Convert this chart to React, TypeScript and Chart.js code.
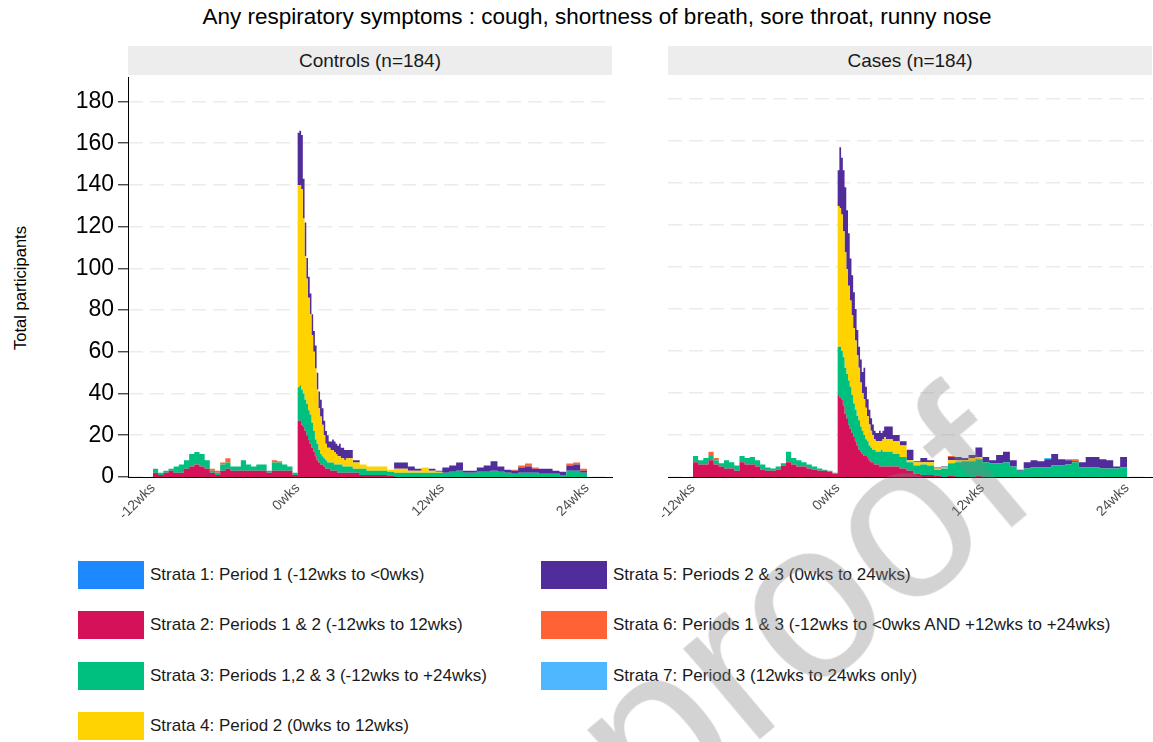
import React, { useEffect, useRef } from "react";
import { Chart, registerables } from "chart.js";
Chart.register(...registerables);

const FONT = "'Liberation Sans', Arial, Helvetica, sans-serif";

// Bin start day (relative to 0wks). Pre-period 3-day bins, peak daily, tail 4-day bins, final closing point.
const DAYS = [
  -84, -81, -78, -75, -72, -69, -66, -63, -60, -57, -54, -51, -48, -45, -42, -39, -36, -33, -30, -27, -24, -21, -18, -15, -12, -9, -6, -3,
  0, 1, 2, 3, 4, 5, 6, 7, 8, 9, 10, 11, 12, 13, 14, 15, 16, 17, 18, 19, 20, 21, 22, 23, 24, 25, 26, 27,
  28, 32, 36, 40, 44, 48, 52, 56, 60, 64, 68, 72, 76, 80, 84, 88, 92, 96, 100, 104, 108, 112, 116, 120, 124, 128, 132, 136, 140, 144, 148, 152, 156, 160, 164,
  168,
];

const X_TICKS = [-84, 0, 84, 168];
const X_TICK_LABELS = ["-12wks", "0wks", "12wks", "24wks"];
const Y_TICKS = [0, 20, 40, 60, 80, 100, 120, 140, 160, 180];

// ---------- Controls (n=184) ----------
const CONTROLS_S2 = [
  2, 1, 2, 3, 2, 2, 4, 5, 6, 5, 4, 2, 1, 3, 4, 3, 3, 3, 3, 3, 3, 3, 2, 3, 3, 3, 3, 1,
  27, 27, 25, 24, 22, 20, 18, 16, 14, 12, 10, 8, 7, 6, 6, 5, 4, 4, 4, 3, 3, 3, 3, 2, 2, 2, 2, 2,
  2, 2, 1, 1, 1, 1, 0.5, 0, 0, 0, 0, 0, 0, 0, 0, 0, 0, 0, 0, 0, 0, 0, 0, 0, 0, 0, 0, 0, 0, 0, 0, 0, 0, 0, 0,
  0,
];
const CONTROLS_S3 = [
  2, 1, 1, 1, 3, 4, 4, 6, 6, 6, 4, 1, 1, 3, 3, 2, 2, 5, 3, 2, 3, 3, 1, 4, 4, 3, 2, 1,
  16, 17, 17, 16, 15, 15, 14, 14, 12, 10, 8, 8, 6, 5, 4, 4, 4, 3, 3, 4, 4, 3, 3, 4, 4, 4, 3, 3,
  3, 2, 3, 2, 2, 2, 2, 2, 2, 2, 2, 2, 2, 2, 2, 2.5, 3, 2, 2, 2.5, 2.5, 3, 2.5, 2, 1.5, 2, 2, 2, 1.5, 1.5, 1.5, 1, 3, 3, 2,
  0,
];
const CONTROLS_S4 = [
  0, 0, 0, 0, 0, 0, 0, 0, 0, 0, 0, 0, 0, 0, 0, 0, 0, 0, 0, 0, 0, 0, 0, 0, 0, 0, 0, 0,
  97, 96, 96, 84, 69, 60, 54, 48, 42, 38, 34, 26, 20, 18, 15, 11, 8, 7, 7, 6, 6, 6, 5, 4, 4, 3, 4, 3,
  4, 3, 2, 2, 2, 2, 1, 2, 2, 1, 1, 2.5, 1, 0.5, 0, 0, 0, 0, 0, 0, 0, 0, 0, 0, 0, 0, 0, 0, 0, 0, 0, 0, 0, 0, 0,
  0,
];
const CONTROLS_S5 = [
  0, 0, 0, 0, 0, 0, 0, 0, 0, 0, 0, 0, 0, 0, 0, 0, 0, 0, 0, 0, 0, 0, 0, 0, 0, 0, 0, 0,
  25, 26, 26, 19, 16, 10, 10, 10, 10, 10, 11, 8, 8, 8, 8, 7, 6, 6, 3, 4, 5, 5, 5, 5, 6, 5, 5, 5,
  4, 1, 0, 0, 0, 0, 0, 3, 3, 2, 1, 0, 1, 0.5, 2.5, 3, 4, 1, 1, 2, 3, 4.5, 2.5, 1.5, 1.5, 2.5, 3, 2, 2.5, 2.5, 1.5, 1.5, 2.5, 3, 1,
  0,
];
const CONTROLS_S6 = [
  0, 0, 0, 0, 0, 0, 0, 0, 0, 0, 0, 1, 1, 1, 2, 0, 0, 0, 0, 0, 0, 0, 0, 1, 0.5, 0, 0, 0,
  0, 0, 0, 0, 0, 0, 0, 0, 0, 0, 0, 0, 0, 0, 0, 0, 0, 0, 0, 0, 0, 0, 0, 0, 0, 0, 0, 0,
  0, 0, 0, 0, 0, 0, 0, 0, 0, 0, 0, 0, 0, 0, 0, 0, 0, 0, 0, 0, 0, 0, 0, 0, 0.5, 1, 1.5, 0.5, 0, 0, 0, 0, 1, 1, 1,
  0,
];

// ---------- Cases (n=184) ----------
const CASES_S2 = [
  7, 6, 6, 8, 6, 5, 4, 4, 3, 7, 6, 6, 5, 3.5, 3, 3, 3.5, 5.5, 7, 6, 5, 5, 4, 3.5, 3, 3, 2.5, 1.5,
  39, 38, 37, 34, 30, 28, 25, 23, 21, 19, 17, 15, 13, 12, 11, 10, 10, 9, 8, 7, 7, 6, 6, 6, 5, 5, 5, 5,
  5, 5, 4, 3, 1.5, 1, 1, 0.5, 0, 0.5, 0, 0, 0, 0.5, 0, 0, 0, 0, 0, 0, 0, 0, 0, 0, 0, 0, 0, 0, 0, 0, 0, 0, 0, 0, 0,
  0,
];
const CASES_S3 = [
  3, 2, 3, 2, 2, 1.5, 4, 3, 2.5, 3, 3, 3.5, 3, 2.5, 1.5, 1, 1.5, 1, 5, 3, 3, 2, 2, 1.5, 1, 0.5, 0.5, 0.5,
  23, 24, 23, 23, 22, 21, 21, 20, 18, 16, 15, 14, 14, 12, 11, 10, 8, 8, 7, 7, 6, 7, 6, 6, 7, 8, 7, 7,
  7, 6, 5.5, 4, 4, 5, 4.5, 3, 4, 6, 7, 7.5, 7.5, 8, 7, 6.5, 6.5, 7, 5, 3, 4, 4.5, 4.5, 4.5, 5.5, 5.5, 6, 7, 4.5, 4.5, 4.5, 4, 4, 4, 4.5,
  0,
];
const CASES_S4 = [
  0, 0, 0, 0, 0, 0, 0, 0, 0, 0, 0, 0, 0, 0, 0, 0, 0, 0, 0, 0, 0, 0, 0, 0, 0, 0, 0, 0,
  67, 66, 65, 60, 55, 50, 45, 41, 38, 36, 33, 29, 25, 21, 18, 17, 15, 12, 10, 8, 7, 5, 5, 5, 5, 4, 6, 7,
  6, 6, 5.5, 1, 1.5, 1, 1.5, 0.5, 0.5, 1.5, 1, 0.5, 1.5, 1, 0, 0, 0, 0, 0, 0, 0, 0, 0, 0, 0, 0, 0, 0, 0, 0, 0, 0, 0, 0, 0,
  0,
];
const CASES_S5 = [
  0, 0, 0, 0, 0, 0, 0, 0, 0, 0, 0, 0, 0, 0, 0, 0, 0, 0, 0, 0, 0, 0, 0, 0, 0, 0, 0, 0,
  17, 29, 27, 29, 31, 28, 25, 20, 19, 17, 15, 12, 10, 11, 10, 15, 10, 8, 7, 6, 5, 4, 4, 4, 5, 4, 4, 5,
  6, 3, 2, 5, 0.5, 2, 1, 0.5, 0.5, 1.5, 1.5, 1, 1.5, 4.5, 2.5, 1.5, 4, 5, 3, 0.5, 3, 3.5, 3, 4, 5.5, 3, 2, 0.5, 2.5, 5, 5, 4.5, 4, 1, 5,
  0,
];
const CASES_S6 = [
  0, 0, 0, 2, 1, 0, 0, 0, 0, 0, 0, 0, 0, 0, 0, 0, 0, 0, 0, 0, 0, 0, 0, 0, 0, 0, 0, 0,
  0, 0, 0, 0, 0, 0, 0, 0, 0, 0, 0, 0, 0, 0, 0, 0, 0, 0, 0, 0, 0, 0, 0, 0, 0, 0, 0, 0,
  0, 0, 0, 0, 0, 0, 0, 0, 0, 0.5, 0, 0, 0, 0, 0, 0, 0, 0, 0, 0, 0, 0, 0, 0, 0, 0, 0.5, 1, 0, 0, 0, 0, 0, 0, 0,
  0,
];
const CASES_S7 = [
  0, 0, 0, 0, 0, 0, 0, 0, 0, 0, 0, 0, 0, 0, 0, 0, 0, 0, 0, 0, 0, 0, 0, 0, 0, 0, 0, 0,
  0, 0, 0, 0, 0, 0, 0, 0, 0, 0, 0, 0, 0, 0, 0, 0, 0, 0, 0, 0, 0, 0, 0, 0, 0, 0, 0, 0,
  0, 0, 0, 0, 0, 0, 0, 0, 0, 0, 0, 0, 0, 0, 0, 0, 0, 0, 0, 0, 0, 0, 0, 0.5, 0, 0, 0, 0, 0, 0, 0, 0, 0, 0, 0,
  0,
];

const STRATA_LABELS = [
  "Strata 1: Period 1 (-12wks to <0wks)",
  "Strata 2: Periods 1 & 2 (-12wks to 12wks)",
  "Strata 3: Periods 1,2 & 3 (-12wks to +24wks)",
  "Strata 4: Period 2 (0wks to 12wks)",
  "Strata 5: Periods 2 & 3 (0wks to 24wks)",
  "Strata 6: Periods 1 & 3 (-12wks to <0wks AND +12wks to +24wks)",
  "Strata 7: Period 3 (12wks to 24wks only)",
];
const STRATA_COLORS = ["#1E88FF", "#D41159", "#00C07F", "#FFD300", "#512D9B", "#FF6333", "#4DB8FF"];

const TITLE = "Any respiratory symptoms : cough, shortness of breath, sore throat, runny nose";
const PANEL_TITLES = ["Controls (n=184)", "Cases (n=184)"];
const WATERMARK = "Journal Pre-proof";

type Series = { strata: number; values: number[] };

const CONTROLS_SERIES: Series[] = [
  { strata: 2, values: CONTROLS_S2 },
  { strata: 3, values: CONTROLS_S3 },
  { strata: 4, values: CONTROLS_S4 },
  { strata: 5, values: CONTROLS_S5 },
  { strata: 6, values: CONTROLS_S6 },
];
const CASES_SERIES: Series[] = [
  { strata: 2, values: CASES_S2 },
  { strata: 3, values: CASES_S3 },
  { strata: 4, values: CASES_S4 },
  { strata: 5, values: CASES_S5 },
  { strata: 6, values: CASES_S6 },
  { strata: 7, values: CASES_S7 },
];

const CANVAS_TOP = 60;
const CANVAS_H = 477;

function Panel(props: { left: number; width: number; yWidth: number; padRight: number; showY: boolean; series: Series[] }) {
  const ref = useRef<HTMLCanvasElement | null>(null);
  const { left, width, yWidth, padRight, showY, series } = props;
  useEffect(() => {
    if (!ref.current) return;
    const chart = new Chart(ref.current, {
      type: "line",
      data: {
        datasets: series.map((s, i) => ({
          label: STRATA_LABELS[s.strata - 1],
          data: DAYS.map((d, j) => ({ x: d, y: s.values[j] })),
          backgroundColor: STRATA_COLORS[s.strata - 1],
          borderColor: "rgba(0,0,0,0)",
          borderWidth: 0,
          pointRadius: 0,
          pointHoverRadius: 0,
          stepped: "before",
          tension: 0,
          fill: i === 0 ? "origin" : "-1",
        })),
      },
      options: {
        responsive: false,
        maintainAspectRatio: false,
        animation: false,
        events: [],
        layout: { padding: { top: 15, right: padRight, bottom: 0, left: 0 } },
        plugins: {
          legend: { display: false },
          tooltip: { enabled: false },
          title: { display: false },
        },
        scales: {
          x: {
            type: "linear",
            min: -98.5,
            max: 182.5,
            afterBuildTicks: (s: any) => {
              s.ticks = X_TICKS.map((v) => ({ value: v }));
            },
            afterFit: (s: any) => {
              s.height = 60;
            },
            ticks: {
              autoSkip: false,
              minRotation: 45,
              maxRotation: 45,
              padding: 3,
              color: "#4D4D4D",
              font: { family: FONT, size: 14 },
              callback: (v: any) => {
                const k = X_TICKS.indexOf(Number(v));
                return k >= 0 ? X_TICK_LABELS[k] : "";
              },
            },
            grid: { display: false, drawTicks: false },
            border: { display: true, color: "#000000", width: 1 },
          },
          y: {
            type: "linear",
            stacked: true,
            min: 0,
            max: 191.4,
            afterBuildTicks: (s: any) => {
              s.ticks = Y_TICKS.map((v) => ({ value: v }));
            },
            afterFit: (s: any) => {
              s.width = yWidth;
            },
            ticks: {
              display: showY,
              padding: 4,
              color: "#000000",
              font: { family: FONT, size: 23 },
            },
            grid: {
              color: "#EBEBEB",
              lineWidth: 1.6,
              drawTicks: showY,
              tickLength: 10,
              tickColor: "#000000",
              tickWidth: 1,
              tickBorderDash: [],
            },
            border: { display: showY, color: "#000000", width: 1, dash: [14, 7] },
          },
        },
      } as any,
    });
    return () => chart.destroy();
  }, []);
  return (
    <canvas
      ref={ref}
      width={width}
      height={CANVAS_H}
      style={{ position: "absolute", left, top: CANVAS_TOP, width, height: CANVAS_H, display: "block" }}
    />
  );
}

const LEGEND_COL1 = [0, 1, 2, 3];
const LEGEND_COL2 = [4, 5, 6];
const LEGEND_ROWS_Y = [561, 611, 662, 712];

export default function App() {
  const strip = (left: number, text: string) => (
    <div
      style={{
        position: "absolute",
        left,
        top: 46,
        width: 484,
        height: 29,
        background: "#EDEDED",
        color: "#1A1A1A",
        fontFamily: FONT,
        fontSize: 19,
        lineHeight: "29px",
        textAlign: "center",
      }}
    >
      {text}
    </div>
  );
  const legendItem = (k: number, row: number, x: number) => (
    <div key={k} style={{ position: "absolute", left: x, top: LEGEND_ROWS_Y[row], height: 28, display: "flex", alignItems: "center" }}>
      <div style={{ width: 66, height: 28, background: STRATA_COLORS[k] }} />
      <div style={{ marginLeft: 6, fontFamily: FONT, fontSize: 17, color: "#1A1A1A", whiteSpace: "nowrap" }}>{STRATA_LABELS[k]}</div>
    </div>
  );
  return (
    <div style={{ position: "absolute", left: 0, top: 0, width: 1153, height: 742, overflow: "hidden", background: "#FFFFFF" }}>
      <div
        style={{
          position: "absolute",
          left: 597,
          top: 4,
          transform: "translateX(-50%)",
          whiteSpace: "nowrap",
          fontFamily: FONT,
          fontSize: 22.5,
          color: "#000000",
        }}
      >
        {TITLE}
      </div>
      {strip(128, PANEL_TITLES[0])}
      {strip(668, PANEL_TITLES[1])}
      <div
        style={{
          position: "absolute",
          left: 20,
          top: 288,
          transform: "translate(-50%, -50%) rotate(-90deg)",
          whiteSpace: "nowrap",
          fontFamily: FONT,
          fontSize: 16.5,
          color: "#000000",
        }}
      >
        Total participants
      </div>
      <Panel left={0} width={620} yWidth={128} padRight={8} showY={true} series={CONTROLS_SERIES} />
      <Panel left={648} width={505} yWidth={20} padRight={1} showY={false} series={CASES_SERIES} />
      {LEGEND_COL1.map((k, r) => legendItem(k, r, 78))}
      {LEGEND_COL2.map((k, r) => legendItem(k, r, 541))}
      <div
        style={{
          position: "absolute",
          left: -409,
          top: 1472,
          transform: "rotate(-40deg)",
          transformOrigin: "0 0",
          whiteSpace: "nowrap",
          fontFamily: FONT,
          fontSize: 225,
          lineHeight: 1,
          color: "rgba(128,128,128,0.35)",
          pointerEvents: "none",
        }}
      >
        {WATERMARK}
      </div>
    </div>
  );
}
